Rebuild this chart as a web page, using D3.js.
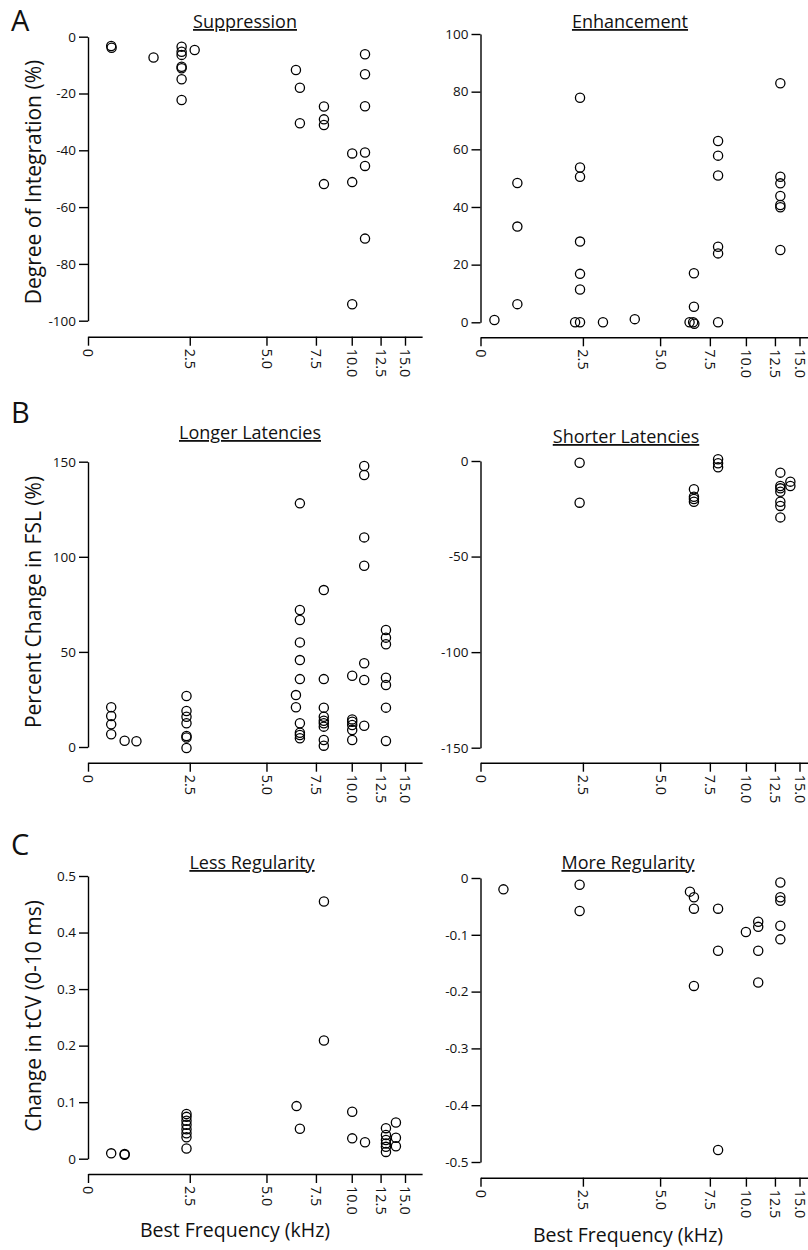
<!DOCTYPE html>
<html>
<head>
<meta charset="UTF-8">
<title>Best frequency scatter</title>
<script src="https://d3js.org/d3.v7.min.js"></script>
<style>
  body { margin: 0; background: #fff; }
  svg { display: block; font-family: "Open Sans", sans-serif; }
  .axis path, .axis line { stroke: #000; stroke-width: 1.4; }
  .axis text { fill: #111; font-size: 13.5px; font-family: "Open Sans", sans-serif; }
  .axis.x text { font-size: 14.5px; }
</style>
</head>
<body>
<div id="chart"></div>
<script>
// x axis: best frequency (kHz), tick labels as printed
const freqTicks = [0, 2.5, 5, 7.5, 10, 12.5, 15];

// A: degree of integration (%)
const suppressionBF  = [0.57, 0.58, 1.61, 2.30, 2.30, 2.30, 2.30, 2.30, 2.30, 2.30, 2.66, 6.49, 6.69, 6.69, 8.06, 8.06, 8.06, 8.06, 10.04, 10.04, 10.04, 11.15, 11.15, 11.15, 11.15, 11.15, 11.15];
const suppressionVal = [-3.3, -3.9, -7.3, -3.5, -5.3, -6.4, -10.6, -11.1, -15.0, -22.3, -4.7, -11.7, -18.0, -30.5, -24.6, -29.1, -31.1, -51.9, -41.1, -51.2, -94.2, -6.2, -13.2, -24.5, -40.8, -45.5, -71.1];

const enhancementBF  = [0.34, 0.90, 0.90, 0.90, 2.43, 2.43, 2.43, 2.43, 2.43, 2.43, 2.31, 2.43, 3.15, 4.18, 6.48, 6.66, 6.72, 6.70, 6.70, 8.07, 8.07, 8.07, 8.07, 8.07, 8.07, 13.05, 13.05, 13.05, 13.05, 13.05, 13.05, 13.05];
const enhancementVal = [0.8, 48.3, 33.2, 6.3, 77.9, 53.7, 50.5, 28.0, 16.8, 11.4, 0, 0, 0, 1.1, 0, 0, -0.5, 17.0, 5.4, 62.9, 57.8, 50.9, 26.2, 23.9, 0, 82.9, 50.5, 48.2, 43.8, 40.7, 39.9, 25.1];

// B: percent change in first spike latency (%)
const longerBF  = [0.57, 0.57, 0.57, 0.57, 0.90, 1.19, 2.42, 2.42, 2.42, 2.42, 2.42, 2.42, 2.42, 6.69, 6.69, 6.69, 6.69, 6.69, 6.69, 6.49, 6.49, 6.69, 6.69, 6.69, 6.69, 8.05, 8.05, 8.05, 8.05, 8.05, 8.05, 8.05, 8.05, 8.05, 10.04, 10.04, 10.04, 10.04, 10.04, 10.04, 11.08, 11.08, 11.08, 11.08, 11.08, 11.08, 11.08, 13.05, 13.05, 13.05, 13.05, 13.05, 13.05, 13.05];
const longerVal = [20.9, 16.3, 11.9, 6.7, 3.3, 3.0, 26.8, 18.9, 15.9, 12.5, 5.8, 5.0, -0.5, 128.1, 72.0, 66.8, 55.0, 45.7, 35.7, 27.3, 20.9, 12.5, 7.5, 6.3, 4.6, 82.5, 35.7, 20.7, 15.9, 13.8, 12.5, 10.7, 3.7, 0.7, 37.5, 14.5, 13.3, 11.6, 8.9, 3.7, 147.7, 143.0, 110.2, 95.3, 44.0, 35.2, 11.2, 61.5, 57.5, 54.0, 36.4, 32.6, 20.7, 3.2];

const shorterBF  = [2.42, 2.42, 6.70, 6.70, 6.70, 6.70, 8.07, 8.07, 8.07, 13.05, 13.05, 13.05, 13.05, 13.05, 13.05, 13.05, 14.07, 14.07];
const shorterVal = [-0.9, -21.8, -14.8, -18.7, -19.9, -21.3, 0.9, -1.2, -3.3, -6.1, -13.1, -14.3, -16.1, -21.3, -23.5, -29.5, -10.8, -13.1];

// C: change in tCV (0-10 ms)
const lessRegBF  = [0.57, 0.90, 0.90, 2.42, 2.42, 2.42, 2.42, 2.42, 2.42, 2.42, 2.42, 6.52, 6.69, 8.06, 8.06, 10.04, 10.04, 11.15, 13.05, 13.05, 13.05, 13.05, 13.05, 13.05, 14.07, 14.07, 14.07];
const lessRegVal = [0.0095, 0.0083, 0.0070, 0.079, 0.074, 0.067, 0.060, 0.052, 0.045, 0.038, 0.018, 0.093, 0.053, 0.455, 0.209, 0.083, 0.036, 0.029, 0.054, 0.042, 0.033, 0.027, 0.021, 0.012, 0.064, 0.037, 0.022];

const moreRegBF  = [0.56, 2.42, 2.42, 6.50, 6.70, 6.70, 6.70, 8.07, 8.07, 8.07, 10.0, 11.06, 11.06, 11.06, 11.06, 13.05, 13.05, 13.05, 13.05, 13.05];
const moreRegVal = [-0.020, -0.012, -0.058, -0.024, -0.034, -0.054, -0.190, -0.054, -0.128, -0.479, -0.095, -0.077, -0.086, -0.128, -0.184, -0.008, -0.034, -0.040, -0.084, -0.108];

// y tick values per panel
const suppressionTicks = [0, -20, -40, -60, -80, -100];
const enhancementTicks = [0, 20, 40, 60, 80, 100];
const longerTicks = [0, 50, 100, 150];
const shorterTicks = [0, -50, -100, -150];
const lessRegTicks = [0, 0.1, 0.2, 0.3, 0.4, 0.5];
const moreRegTicks = [0, -0.1, -0.2, -0.3, -0.4, -0.5];

// ---- layout ----
const W = 808, H = 1250;
const tickFrac = [0, 0.321, 0.563, 0.719, 0.832, 0.923, 1, 1.054]; // last = end of axis line
const cols = [{x0: 88, len: 317}, {x0: 480.5, len: 319}];

const panels = [
  {col: 0, title: "Suppression",       tx: 245, ty: 28,  top: 36.7, bot: 320.7, dom: [0, -100],   axisY: 336.7, bf: suppressionBF, val: suppressionVal, ticks: suppressionTicks},
  {col: 1, title: "Enhancement",       tx: 630, ty: 28,  top: 34,   bot: 322.3, dom: [100, 0],    axisY: 337.3, bf: enhancementBF, val: enhancementVal, ticks: enhancementTicks},
  {col: 0, title: "Longer Latencies",  tx: 250, ty: 439, top: 461.7, bot: 747,  dom: [150, 0],    axisY: 762.7, bf: longerBF, val: longerVal, ticks: longerTicks},
  {col: 1, title: "Shorter Latencies", tx: 626, ty: 443, top: 461,  bot: 747.7, dom: [0, -150],   axisY: 762.7, bf: shorterBF, val: shorterVal, ticks: shorterTicks},
  {col: 0, title: "Less Regularity",   tx: 252, ty: 869, top: 876,  bot: 1158.7, dom: [0.5, 0],   axisY: 1174, bf: lessRegBF, val: lessRegVal, ticks: lessRegTicks},
  {col: 1, title: "More Regularity",   tx: 628, ty: 869, top: 878,  bot: 1162,  dom: [0, -0.5],   axisY: 1177.7, bf: moreRegBF, val: moreRegVal, ticks: moreRegTicks}
];

const svg = d3.select("#chart").append("svg")
    .attr("width", W)
    .attr("height", H)
    .attr("viewBox", [0, 0, W, H]);

svg.append("rect").attr("width", W).attr("height", H).attr("fill", "#fff");

panels.forEach(p => {
  const c = cols[p.col];
  const xDom = freqTicks.concat([16.9]);
  const x = d3.scaleLinear()
      .domain(xDom)
      .range(tickFrac.map(f => c.x0 + f * c.len));
  const y = d3.scaleLinear().domain(p.dom).range([p.top, p.bot]);

  const g = svg.append("g");

  // y axis
  g.append("g")
      .attr("class", "axis")
      .attr("transform", `translate(${c.x0},0)`)
      .call(d3.axisLeft(y).tickValues(p.ticks).tickSize(9).tickSizeOuter(0).tickPadding(3)
        .tickFormat(d => d === 0 ? "0" : String(d)));

  // x axis
  const xa = g.append("g")
      .attr("class", "axis x")
      .attr("transform", `translate(0,${p.axisY})`)
      .call(d3.axisBottom(x).tickValues(freqTicks).tickSize(9).tickSizeOuter(0)
        .tickFormat(d => d === 0 ? "0" : d.toFixed(1)));
  xa.selectAll(".tick text")
      .attr("transform", "rotate(90)")
      .attr("x", 12)
      .attr("y", 0)
      .attr("dy", "0.35em")
      .style("text-anchor", "start");

  // title
  g.append("text")
      .attr("x", p.tx)
      .attr("y", p.ty)
      .attr("text-anchor", "middle")
      .attr("font-size", 18)
      .attr("text-decoration", "underline")
      .attr("fill", "#111")
      .text(p.title);

  // points
  g.append("g").selectAll("circle")
      .data(p.bf.map((b, i) => ({bf: b, v: p.val[i]})))
      .join("circle")
      .attr("cx", d => x(d.bf))
      .attr("cy", d => y(d.v))
      .attr("r", 4.6)
      .attr("fill", "none")
      .attr("stroke", "#000")
      .attr("stroke-width", 1.3);
});

// panel letters
[["A", 11, 31], ["B", 11, 423], ["C", 11, 855]].forEach(([t, lx, ly]) => {
  svg.append("text").attr("x", lx).attr("y", ly)
      .attr("font-size", 29).attr("fill", "#111").text(t);
});

// y axis labels
[["Degree of Integration (%)", 182], ["Percent Change in FSL (%)", 602], ["Change in tCV (0-10 ms)", 1016]].forEach(([t, cy]) => {
  svg.append("text")
      .attr("transform", `translate(41,${cy}) rotate(-90)`)
      .attr("text-anchor", "middle")
      .attr("font-size", 21)
      .attr("fill", "#111")
      .text(t);
});

// x axis labels
[[235, 1237], [628, 1242]].forEach(([lx, ly]) => {
  svg.append("text")
      .attr("x", lx).attr("y", ly)
      .attr("text-anchor", "middle")
      .attr("font-size", 19.5)
      .attr("fill", "#111")
      .text("Best Frequency (kHz)");
});
</script>
</body>
</html>
